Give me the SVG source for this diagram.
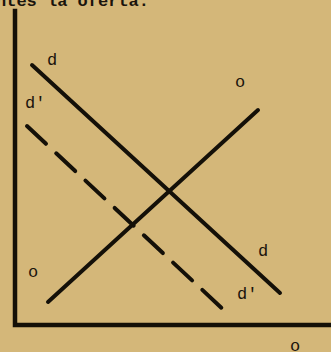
<svg xmlns="http://www.w3.org/2000/svg" width="331" height="352" viewBox="0 0 331 352">
<style>
.ln{stroke:#141008;stroke-width:4;stroke-linecap:round;fill:none}
.ax{stroke:#141008;stroke-width:4.5;stroke-linecap:square;fill:none}
.lb{font-family:"Liberation Mono",monospace;font-size:17px;fill:#1a140c}
</style>
<rect width="331" height="352" fill="#d4b779"/>
<text x="-4" y="6" font-family="Liberation Mono,monospace" font-size="17" font-weight="bold" fill="#1a140c">ntes la oferta.</text>
<g id="axes">
<polyline class="ax" points="15,11 15,325 331,325"/>
</g>
<g id="connectors">
<line id="d" class="ln" x1="32" y1="65" x2="280" y2="293"/>
<line id="dprime" class="ln" x1="27" y1="126" x2="227" y2="313" stroke-dasharray="26 14" stroke-linecap="butt"/>
<line id="o" class="ln" x1="48" y1="302" x2="258" y2="110"/>
</g>
<g id="labels">
<text class="lb" x="47" y="65">d</text>
<text class="lb" x="25" y="108">d'</text>
<text class="lb" x="235" y="87">o</text>
<text class="lb" x="28" y="277">o</text>
<text class="lb" x="258" y="256">d</text>
<text class="lb" x="237" y="299">d'</text>
<text class="lb" x="290" y="351">o</text>
</g>
</svg>
